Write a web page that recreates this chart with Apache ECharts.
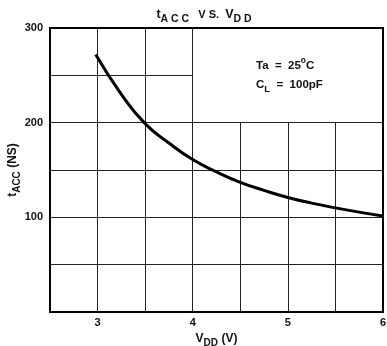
<!DOCTYPE html>
<html>
<head>
<meta charset="utf-8">
<script src="https://cdn.jsdelivr.net/npm/echarts@6/dist/echarts.min.js"></script>
<style>
html,body{margin:0;padding:0;background:#fff;}
#chart{width:387px;height:346px;}
</style>
</head>
<body>
<div id="chart"></div>
<script>
// Access time versus supply voltage
const vdd = [2.98, 3.25, 3.5, 3.75, 4.0, 4.25, 4.5, 4.75, 5.0, 5.25, 5.5, 5.75, 6.0];
const tacc = [272, 230, 199, 178.5, 161, 148, 137, 128.5, 121, 115, 110, 105.5, 101.5];

// Grid lines: verticals (x, top value) and horizontals (y, right end)
const gridX = [3, 3.5, 4, 4.5, 5, 5.5];
const gridXTop = [300, 300, 300, 200, 200, 200];
const gridY = [50, 100, 150, 200, 250];
const gridYRight = [6, 6, 6, 6, 4];

const xTicks = [3, 4, 5, 6];
const yTicks = [100, 200, 300];

const FONT = 'Liberation Sans, Arial, sans-serif';
const lineStyleGrid = {color: '#222', width: 1, type: 'solid'};

// rich styles for main text, subscript, superscript and the smaller "VS."
function richSet(size, lh) {
  const base = {fontFamily: FONT, fontWeight: 'bold', color: '#111'};
  return {
    m: Object.assign({}, base, {fontSize: size, lineHeight: lh, verticalAlign: 'middle'}),
    s: Object.assign({}, base, {fontSize: size - 2, lineHeight: 8, verticalAlign: 'bottom'}),
    u: Object.assign({}, base, {fontSize: size - 3, lineHeight: 7, verticalAlign: 'top'}),
    c: Object.assign({}, base, {fontSize: size - 1.5, lineHeight: lh, verticalAlign: 'middle'})
  };
}

const gridLines = [];
gridX.forEach((x, i) => gridLines.push([{coord: [x, 0]}, {coord: [x, gridXTop[i]]}]));
gridY.forEach((y, i) => gridLines.push([{coord: [2.5, y]}, {coord: [gridYRight[i], y]}]));

const chart = echarts.init(document.getElementById('chart'), null, {renderer: 'canvas'});
chart.setOption({
  animation: false,
  backgroundColor: '#fff',
  grid: {left: 50, right: 4, top: 28, bottom: 34, containLabel: false, outerBoundsMode: 'none',
         show: true, borderColor: '#000', borderWidth: 2, backgroundColor: 'transparent'},
  title: {
    text: '{m|t}{s|A C C}{c|   V S.  }{m|V}{s|D D}',
    left: 199, top: 0, textAlign: 'center',
    textStyle: {rich: richSet(12.5, 20)}
  },
  xAxis: {
    type: 'value', min: 2.5, max: 6, interval: 0.5,
    axisLine: {show: false}, axisTick: {show: false}, splitLine: {show: false},
    axisLabel: {
      fontFamily: FONT, fontWeight: 'bold', fontSize: 11, color: '#111', margin: 5,
      formatter: v => xTicks.includes(v) ? String(v) : ''
    },
    name: '{m|V}{s|DD}{m| (V)}',
    nameLocation: 'middle', nameGap: 14,
    nameTextStyle: {rich: richSet(12, 18)}
  },
  yAxis: {
    type: 'value', min: 0, max: 300, interval: 50,
    axisLine: {show: false}, axisTick: {show: false}, splitLine: {show: false},
    axisLabel: {
      fontFamily: FONT, fontWeight: 'bold', fontSize: 11, color: '#111', margin: 7,
      formatter: v => yTicks.includes(v) ? String(v) : ''
    },
    name: '{m|t}{s|ACC}{m| (NS)}',
    nameLocation: 'middle', nameGap: 28, nameRotate: 90, nameMoveOverlap: false,
    nameTextStyle: {rich: richSet(12, 18)}
  },
  graphic: [{
    type: 'text', left: 256, top: 56,
    style: {
      text: '{m|Ta  =  25}{u|o}{m|C}\n{m|C}{s|L}{m|  =  100pF}',
      rich: (function () {
        const r = richSet(11.5, 19);
        Object.keys(r).forEach(k => { r[k].fill = '#111'; });
        return r;
      })()
    }
  }],
  series: [
    {
      type: 'line', data: [], silent: true,
      markLine: {symbol: 'none', silent: true, label: {show: false}, lineStyle: lineStyleGrid, data: gridLines}
    },
    {
      type: 'line', smooth: 0.5, showSymbol: false, silent: true,
      lineStyle: {color: '#000', width: 3},
      data: vdd.map((v, i) => [v, tacc[i]]),
      z: 5
    }
  ]
});
</script>
</body>
</html>
